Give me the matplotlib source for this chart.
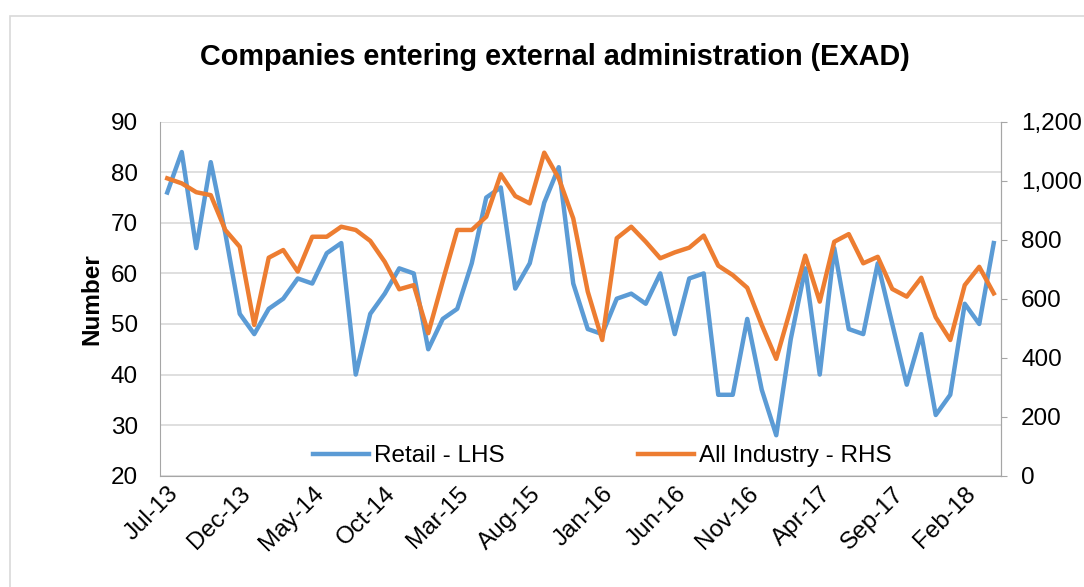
import matplotlib.pyplot as plt
from matplotlib.patches import Rectangle

plt.rcParams['font.family'] = ['Liberation Sans', 'DejaVu Sans']

# monthly data, Jul-13 .. Apr-18
months = ["Jul-13", "Aug-13", "Sep-13", "Oct-13", "Nov-13", "Dec-13",
          "Jan-14", "Feb-14", "Mar-14", "Apr-14", "May-14", "Jun-14",
          "Jul-14", "Aug-14", "Sep-14", "Oct-14", "Nov-14", "Dec-14",
          "Jan-15", "Feb-15", "Mar-15", "Apr-15", "May-15", "Jun-15",
          "Jul-15", "Aug-15", "Sep-15", "Oct-15", "Nov-15", "Dec-15",
          "Jan-16", "Feb-16", "Mar-16", "Apr-16", "May-16", "Jun-16",
          "Jul-16", "Aug-16", "Sep-16", "Oct-16", "Nov-16", "Dec-16",
          "Jan-17", "Feb-17", "Mar-17", "Apr-17", "May-17", "Jun-17",
          "Jul-17", "Aug-17", "Sep-17", "Oct-17", "Nov-17", "Dec-17",
          "Jan-18", "Feb-18", "Mar-18", "Apr-18"]

retail = [76, 84, 65, 82, 68, 52, 48, 53, 55, 59,
          58, 64, 66, 40, 52, 56, 61, 60, 45, 51,
          53, 62, 75, 77, 57, 62, 74, 81, 58, 49,
          48, 55, 56, 54, 60, 48, 59, 60, 36, 36,
          51, 37, 28, 47, 61, 40, 65, 49, 48, 62,
          50, 38, 48, 32, 36, 54, 50, 66]

all_industry = [1008, 991, 961, 951, 833, 776, 511, 739, 765, 692,
                810, 810, 844, 833, 796, 725, 632, 646, 483, 660,
                833, 833, 878, 1022, 948, 923, 1095, 1008, 872, 624,
                460, 805, 844, 793, 737, 757, 773, 814, 712, 680,
                637, 511, 396, 567, 746, 590, 793, 819, 720, 742,
                633, 607, 671, 537, 460, 646, 708, 618]

fig = plt.figure(figsize=(10.84, 5.87), dpi=100)
fig.patches.append(Rectangle((10 / 1084, -0.1), 1.2, 1 - 16 / 587 + 0.1,
                             transform=fig.transFigure, fill=False,
                             edgecolor="#D9D9D9", linewidth=1.2))

ax = fig.add_axes([160 / 1084, 1 - 475.7 / 587, 841 / 1084, 354 / 587])
ax2 = ax.twinx()

x = list(range(len(months)))
l1, = ax.plot(x, retail, color="#5B9BD5", linewidth=3.2, label="Retail - LHS")
l2, = ax2.plot(x, all_industry, color="#ED7D31", linewidth=3.2, label="All Industry - RHS")

ax.set_xlim(-0.5, len(months) - 0.5)
ax.set_ylim(20, 90)
ax.set_yticks(range(20, 91, 10))
ax2.set_ylim(0, 1200)
ax2.set_yticks(range(0, 1201, 200))
ax2.set_yticklabels([f"{v:,}" for v in range(0, 1201, 200)])

ax.set_xticks(x[::5])
ax.set_xticklabels(months[::5], rotation=45, ha="right", rotation_mode="anchor")

ax.grid(axis="y", color="#D9D9D9", linewidth=1.2)
ax.set_axisbelow(True)

for a in (ax, ax2):
    for s in a.spines.values():
        s.set_color("#A6A6A6")
    a.spines["top"].set_visible(False)
ax2.spines["left"].set_visible(False)
ax2.spines["bottom"].set_visible(False)

fs = 17.5
ax.tick_params(axis="y", length=0, labelsize=fs, pad=16)
ax.tick_params(axis="x", length=0, labelsize=fs, pad=5)
ax2.tick_params(axis="y", length=4.5, color="#A6A6A6", labelsize=fs, pad=10)

ax.set_ylabel("Number", fontsize=fs, fontweight="bold", labelpad=5)

fig.text(555 / 1084, 1 - 57 / 587, "Companies entering external administration (EXAD)",
         ha="center", va="center", fontsize=20.8, fontweight="bold")

ax2.legend([l1, l2], ["Retail - LHS", "All Industry - RHS"], loc="lower center",
           bbox_to_anchor=(0.526, -0.038), ncol=2, frameon=False, fontsize=fs,
           handlelength=2.3, columnspacing=5.5, handletextpad=0.2)

fig.savefig("out.png", dpi=100)
